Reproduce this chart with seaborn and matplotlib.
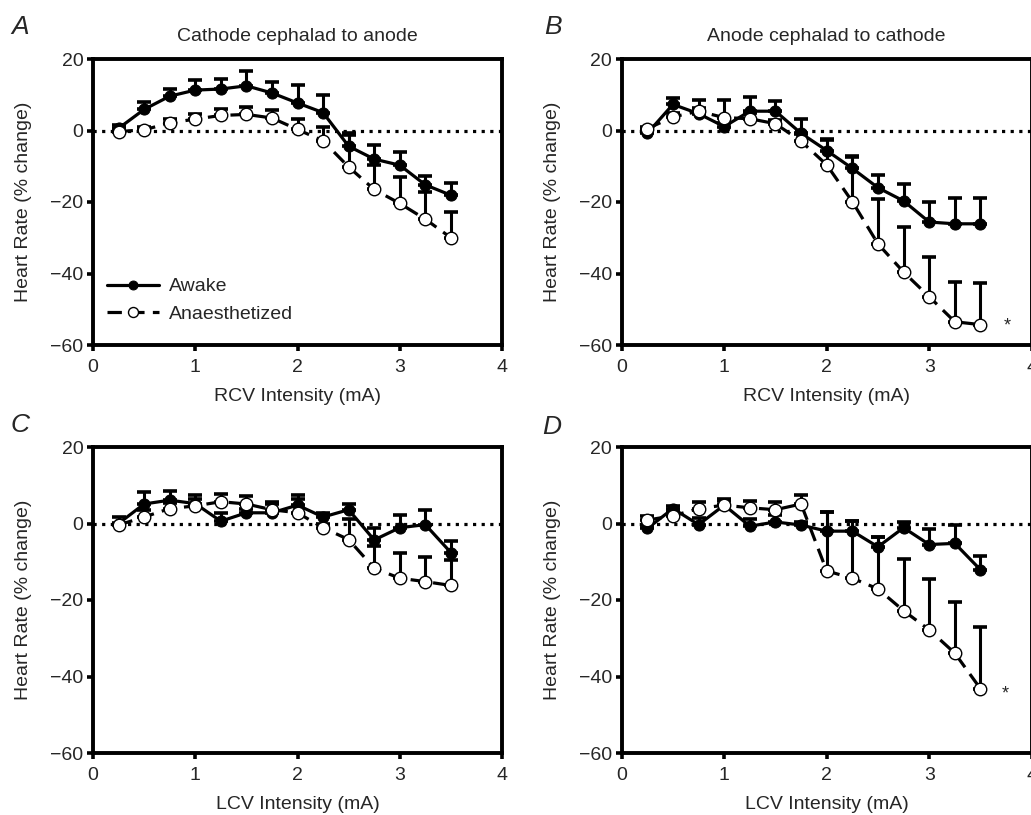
import numpy as np
import pandas as pd
import matplotlib
matplotlib.use("Agg")
import matplotlib.pyplot as plt
import seaborn as sns

sns.set_style("white")
plt.rcParams['font.family'] = ['Liberation Sans', 'DejaVu Sans']

# ---------------- data ----------------
intensity = [0.25, 0.5, 0.75, 1.0, 1.25, 1.5, 1.75, 2.0, 2.25, 2.5, 2.75, 3.0, 3.25, 3.5]

A_awake = [0.6, 5.9, 9.6, 11.3, 11.6, 12.5, 10.5, 7.7, 5.0, -4.4, -8.0, -9.7, -15.2, -18.1]
A_awake_err = [1.0, 2.0, 2.1, 2.8, 2.8, 4.1, 3.2, 5.0, 4.9, 3.6, 4.0, 3.8, 2.5, 3.5]
A_anaes = [-0.3, 0.2, 2.1, 3.2, 4.2, 4.5, 3.5, 0.3, -2.9, -10.2, -16.5, -20.4, -24.8, -30.0]
A_anaes_err = [0.5, 0.8, 1.0, 1.5, 1.9, 2.1, 2.1, 3.0, 4.0, 9.0, 6.8, 7.3, 7.6, 7.3]

B_awake = [-0.8, 7.3, 4.7, 1.1, 5.4, 5.4, -0.8, -5.6, -10.6, -16.0, -19.7, -25.6, -26.1, -26.1]
B_awake_err = [0.8, 1.9, 1.5, 1.0, 4.0, 2.9, 4.1, 3.3, 3.6, 3.5, 4.7, 5.7, 7.3, 7.3]
B_anaes = [0.5, 3.8, 5.4, 3.6, 3.3, 1.9, -3.0, -9.6, -19.9, -31.7, -39.6, -46.5, -53.5, -54.3]
B_anaes_err = [0.5, 1.0, 3.2, 5.0, 1.5, 1.0, 2.0, 7.0, 12.5, 12.5, 12.6, 11.0, 11.2, 11.6]

C_awake = [0.0, 5.1, 6.1, 5.2, 0.6, 2.8, 2.8, 4.8, 1.7, 3.6, -4.3, -1.1, -0.3, -7.6]
C_awake_err = [1.6, 3.2, 2.4, 2.2, 2.2, 1.0, 2.9, 2.6, 1.0, 1.6, 3.2, 3.4, 3.8, 3.1]
C_anaes = [-0.4, 1.7, 3.9, 4.6, 5.7, 5.1, 3.6, 2.8, -1.1, -4.2, -11.7, -14.3, -15.2, -16.2]
C_anaes_err = [0.5, 1.8, 1.5, 1.9, 2.1, 2.0, 1.5, 3.7, 1.0, 5.3, 5.8, 6.5, 6.5, 6.7]

D_awake = [-1.3, 3.9, -0.3, 4.8, -0.7, 0.4, -0.4, -2.0, -2.0, -6.1, -1.1, -5.5, -5.2, -12.1]
D_awake_err = [1.0, 0.7, 1.8, 1.0, 2.0, 1.8, 0.8, 4.9, 2.7, 2.6, 1.4, 4.0, 4.8, 3.7]
D_anaes = [0.9, 2.0, 3.9, 4.8, 4.1, 3.6, 5.1, -12.4, -14.3, -17.1, -22.8, -27.8, -33.9, -43.2]
D_anaes_err = [1.1, 1.0, 1.6, 1.7, 1.7, 1.9, 2.3, 15.3, 15.0, 13.6, 13.4, 13.2, 13.3, 16.1]

series_labels = ["Awake", "Anaesthetized"]
panel_letters = ["A", "B", "C", "D"]
panel_titles = ["Cathode cephalad to anode", "Anode cephalad to cathode", "", ""]
x_labels = ["RCV Intensity (mA)", "RCV Intensity (mA)", "LCV Intensity (mA)", "LCV Intensity (mA)"]
y_label = "Heart Rate (% change)"
x_ticks = [0, 1, 2, 3, 4]
y_ticks = [-60, -40, -20, 0, 20]
y_tick_labels = ["\u221260", "\u221240", "\u221220", "0", "20"]
star_pos = {1: (3.76, -54.8), 3: (3.74, -44.5)}

panels = [
    (A_awake, A_awake_err, A_anaes, A_anaes_err),
    (B_awake, B_awake_err, B_anaes, B_anaes_err),
    (C_awake, C_awake_err, C_anaes, C_anaes_err),
    (D_awake, D_awake_err, D_anaes, D_anaes_err),
]

W, H = 1031, 815
fig = plt.figure(figsize=(W / 100, H / 100), dpi=100)

# axes rectangles in pixels: left, top, right, bottom
rects = [(93, 59, 502, 345), (621.7, 59, 1031.7, 345),
         (93, 447, 502, 753), (621.7, 447, 1031.7, 753)]
letter_pos = [(20, 27), (553, 27), (20, 425), (552, 427)]

FS = 14

for i, ((aw, awe, an, ane), (l, t, r, b)) in enumerate(zip(panels, rects)):
    ax = fig.add_axes([l / W, 1 - b / H, (r - l) / W, (b - t) / H])
    df = pd.DataFrame({"x": intensity, "awake": aw, "anaes": an})

    ax.axhline(0, color="black", lw=2.3, linestyle=(0, (1, 1.7)),
               dash_capstyle="butt", zorder=1)

    # error bars (upper only)
    ax.errorbar(intensity, aw, yerr=[np.zeros(len(awe)), awe], fmt="none",
                ecolor="black", elinewidth=2.2, capsize=5, capthick=2.6, zorder=2)
    ax.errorbar(intensity, an, yerr=[np.zeros(len(ane)), ane], fmt="none",
                ecolor="black", elinewidth=2.2, capsize=5, capthick=2.6, zorder=2)

    sns.lineplot(data=df, x="x", y="awake", ax=ax, color="black", lw=2.3,
                 marker="o", markersize=8, markerfacecolor="black",
                 markeredgecolor="black", errorbar=None, label=series_labels[0],
                 zorder=3)
    sns.lineplot(data=df, x="x", y="anaes", ax=ax, color="black", lw=2.3,
                 linestyle=(0, (4.5, 2.6)), marker="o", markersize=9,
                 markerfacecolor="white", markeredgecolor="black",
                 markeredgewidth=1.0, errorbar=None, label=series_labels[1],
                 zorder=4)

    ax.set_xlim(0, 4)
    ax.set_ylim(-60, 20)
    ax.set_xticks(x_ticks)
    ax.set_yticks(y_ticks)
    ax.set_yticklabels(y_tick_labels)
    for s in ax.spines.values():
        s.set_linewidth(2.8)
        s.set_color("black")
    ax.tick_params(axis="both", which="both", direction="out", length=4,
                   width=2.6, color="black", labelsize=FS, pad=3,
                   left=True, bottom=True, right=False, top=False)
    ax.tick_params(axis="x", pad=6)
    ax.set_xlabel(x_labels[i], fontsize=FS, labelpad=9)
    ax.set_ylabel(y_label, fontsize=FS, labelpad=13)
    if panel_titles[i]:
        ax.set_title(panel_titles[i], fontsize=FS, pad=13)

    if i == 0:
        ax.legend(loc="lower left", bbox_to_anchor=(0.0, 0.03), frameon=False,
                  fontsize=FS, handlelength=2.7, handletextpad=0.5,
                  labelspacing=0.5, markerscale=0.8, borderaxespad=0.3)
    else:
        leg = ax.get_legend()
        if leg is not None:
            leg.remove()

    if i in star_pos:
        sx, sy = star_pos[i]
        ax.text(sx, sy, "*", fontsize=13, ha="center", va="center")

    lx, ly = letter_pos[i]
    fig.text(lx / W, 1 - ly / H, panel_letters[i], fontsize=19, style="italic",
             ha="center", va="center")

fig.savefig("out.png", dpi=100)
